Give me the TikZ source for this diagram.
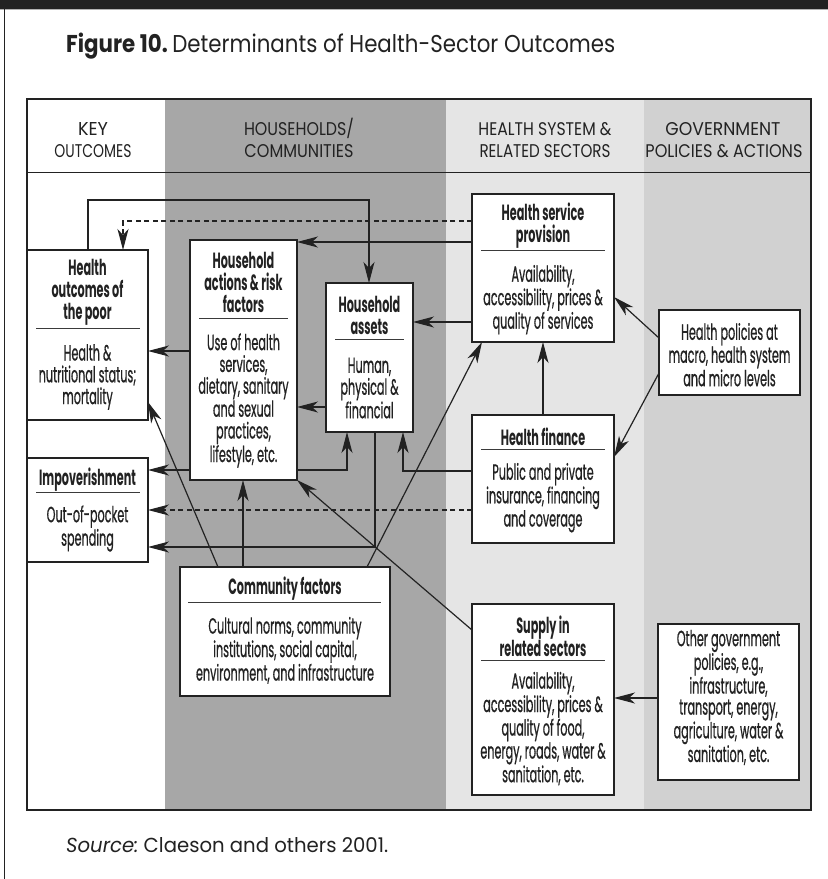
\documentclass[tikz,border=0pt]{standalone}
\usepackage{fontspec}
\setmainfont{Poppins}
\newfontfamily\condfont[FakeStretch=0.51]{Poppins}
\newfontfamily\bodyfont[FakeStretch=0.51,FakeBold=0.6]{Poppins}
\newfontfamily\headfont{Poppins}
\usetikzlibrary{arrows.meta}
\definecolor{darkcol}{HTML}{A7A7A7}
\definecolor{lightcol}{HTML}{E5E5E5}
\definecolor{midcol}{HTML}{D1D1D1}
\definecolor{ink}{HTML}{222222}
\definecolor{sepcol}{HTML}{3A3A3A}
\newcommand{\mkbox}[5]{\node[box, anchor=north west, minimum width={#4-#2}, minimum height={#5-#3}] (#1) at (#2,#3) {};}
\newcommand{\hd}[2]{\resizebox{#1pt}{13pt}{#2}}
\begin{document}
\begin{tikzpicture}[x=1pt,y=-1pt,
  box/.style={draw=ink, fill=white, line width=1.4pt, inner sep=0pt, outer sep=0pt},
  ttl/.style={font=\condfont\bfseries\fontsize{22}{22}\selectfont, align=center, inner sep=0pt, text=ink},
  bdy/.style={font=\bodyfont\fontsize{22}{21.8}\selectfont, align=center, inner sep=0pt, text=ink},
  bdytight/.style={bdy, font=\bodyfont\fontsize{22}{21}\selectfont},
  hdr/.style={font=\headfont, inner sep=0pt, anchor=base, text=ink},
  sepl/.style={draw=sepcol, line width=1pt},
  arr/.style={draw=ink, line width=1.2pt, -{Stealth[length=21pt,width=11pt,inset=6pt]}},
  dashline/.style={dash pattern=on 5pt off 3.5pt}]
\useasboundingbox (0,0) rectangle (828,879);
\fill[white] (0,0) rectangle (828,879);
% page decoration
\fill[ink] (0,0) rectangle (828,9);
\draw[gray!60, line width=0.8pt] (0,9.6) -- (828,9.6);
\draw[ink, line width=1.3pt] (4.5,9) -- (4.5,879);
% title
\node[anchor=base west, inner sep=0pt, text=ink] (title) at (66,52)
  {\resizebox{549pt}{19.5pt}{\bfseries Figure 10.\ \mdseries Determinants of Health-Sector Outcomes}};
% columns
\fill[darkcol] (165,99) rectangle (446,810);
\fill[lightcol] (446,99) rectangle (644,810);
\fill[midcol] (644,99) rectangle (811,810);
\draw[ink, line width=1pt] (27,172) -- (811,172);
% headers
\node[hdr] (h1a) at (93,135) {\hd{30}{KEY}};
\node[hdr] (h1b) at (93,157) {\hd{77}{OUTCOMES}};
\node[hdr] (h2a) at (299,135) {\hd{110}{HOUSEHOLDS\smash{/}}};
\node[hdr] (h2b) at (299,157) {\hd{109}{COMMUNITIES}};
\node[hdr] (h3a) at (545,135) {\hd{133}{HEALTH SYSTEM \&}};
\node[hdr] (h3b) at (545,157) {\hd{131}{RELATED SECTORS}};
\node[hdr] (h4a) at (723,135) {\hd{115}{GOVERNMENT}};
\node[hdr] (h4b) at (724,157) {\hd{157}{POLICIES \& ACTIONS}};
% boxes
\mkbox{ho}{27}{250}{148}{420}
\mkbox{har}{190}{240}{297}{480}
\mkbox{ha}{326}{283}{413}{432}
\mkbox{hsp}{472}{194}{614}{342}
\mkbox{hf}{472}{415}{614}{543}
\mkbox{imp}{27}{458}{148}{562}
\mkbox{cf}{180}{567}{390}{696}
\mkbox{sup}{472}{604}{614}{795}
\mkbox{hp}{659}{310}{800}{395}
\mkbox{ogp}{658}{624}{799}{780}
\draw[ink, line width=2pt] (27,99) rectangle (811,810);
% box texts
\node[ttl] (hoT) at (87.5,292.5) {Health\\outcomes of\\the poor};
\draw[sepl] (36,328) -- (140,328);
\node[bdy] (hoB) at (87.5,377) {Health \&\\nutritional status;\\mortality};
\node[ttl] (harT) at (243.5,282.5) {Household\\actions \& risk\\factors};
\draw[sepl] (199,318) -- (288,318);
\node[bdy] (harB) at (243.5,400.5) {Use of health\\services,\\dietary, sanitary\\and sexual\\practices,\\lifestyle, etc.};
\node[ttl] (haT) at (369.5,315) {Household\\assets};
\draw[sepl] (335,339) -- (404,339);
\node[bdy] (haB) at (369.5,388) {Human,\\physical \&\\financial};
\node[ttl] (hspT) at (543,225.5) {Health service\\provision};
\draw[sepl] (481,250) -- (605,250);
\node[bdytight] (hspB) at (543,299.7) {Availability,\\accessibility, prices \&\\quality of services};
\node[ttl] (hfT) at (543,437) {Health finance};
\draw[sepl] (481,449) -- (605,449);
\node[bdy] (hfB) at (543,497.7) {Public and private\\insurance, financing\\and coverage};
\node[ttl] (impT) at (87.5,480) {Impoverishment};
\draw[sepl] (36,492) -- (140,492);
\node[bdy] (impB) at (87.5,528.5) {Out-of-pocket\\spending};
\node[ttl] (cfT) at (285,589) {Community factors};
\draw[sepl] (188,602) -- (381,602);
\node[bdy] (cfB) at (285,650.3) {Cultural norms, community\\institutions, social capital,\\environment, and infrastructure};
\node[ttl] (supT) at (543,636) {Supply in\\related sectors};
\draw[sepl] (481,660) -- (605,660);
\node[bdytight] (supB) at (543,728.6) {Availability,\\accessibility, prices \&\\quality of food,\\energy, roads, water \&\\sanitation, etc.};
\node[bdy] (hpB) at (729.5,354.7) {Health policies at\\macro, health system\\and micro levels};
\node[bdytight] (ogpB) at (728.5,697.5) {Other government\\policies, e.g.,\\infrastructure,\\transport, energy,\\agriculture, water \&\\sanitation, etc.};
% connectors
\draw[arr] (ho.north -| 88,0) -- (88,200) -- (369,200) -- (ha.north -| 369,0);
\draw[arr,dashline] (hsp.west |- 0,221) -- (123,221) -- (ho.north -| 123,0);
\draw[arr] (hsp.west |- 0,242) -- (har.east |- 0,242);
\draw[arr] (hsp.west |- 0,322) -- (ha.east |- 0,322);
\draw[arr] (ha.west |- 0,407) -- (har.east |- 0,407);
\draw[arr] (har.west |- 0,351) -- (ho.east |- 0,351);
\draw[arr] (har.west |- 0,470) -- (imp.east |- 0,470);
\draw[arr] (har.east |- 0,470) -- (347,470) -- (ha.south -| 347,0);
\draw[arr] (hf.west |- 0,471) -- (403,471) -- (ha.south -| 403,0);
\draw[arr] (ha.south -| 375,0) -- (375,547) -- (imp.east |- 0,547);
\draw[arr,dashline] (hf.west |- 0,510) -- (imp.east |- 0,510);
\draw[arr] (cf.north -| 243,0) -- (har.south -| 243,0);
\draw[arr] (cf.north -| 218,0) -- (ho.east |- 0,402);
\draw[arr] (cf.north -| 367,0) -- (hsp.south -| 482,0);
\draw[arr] (sup.west |- 0,630) -- (har.south east);
\draw[arr] (hf.north) -- (hsp.south);
\draw[arr] (hp.west |- 0,338) -- (hsp.east |- 0,297);
\draw[arr] (hp.west |- 0,373) -- (hf.east |- 0,457);
\draw[arr] (ogp.west |- 0,698) -- (sup.east |- 0,698);
% source
\node[anchor=base west, inner sep=0pt, text=ink] (src) at (66,852)
  {\resizebox{322pt}{15pt}{\itshape Source:\upshape\ Claeson and others 2001.}};
\end{tikzpicture}
\end{document}
